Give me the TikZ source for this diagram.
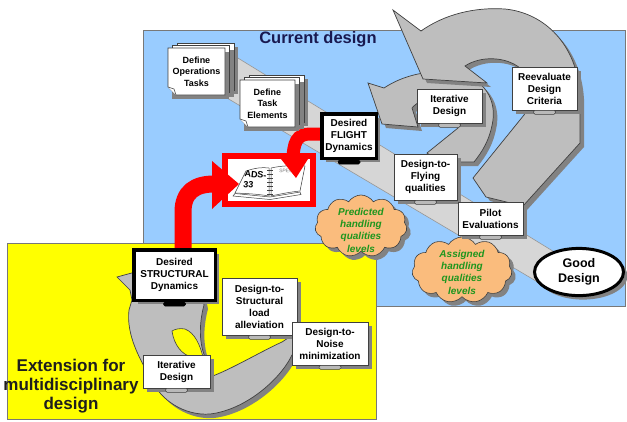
\documentclass[tikz,border=0pt]{standalone}
\usepackage{fontspec}
\setmainfont{Liberation Sans}
\usetikzlibrary{shapes.geometric,shapes.symbols,shadows}
\definecolor{skyb}{RGB}{153,204,255}
\definecolor{yel}{RGB}{255,255,0}
\definecolor{panelb}{RGB}{120,120,120}
\definecolor{bandlt}{RGB}{214,214,214}
\definecolor{bandedge}{RGB}{150,150,150}
\definecolor{bandmd}{RGB}{190,190,190}
\definecolor{edge}{RGB}{64,64,64}
\definecolor{shad}{RGB}{130,130,130}
\definecolor{cloudor}{RGB}{250,188,125}
\definecolor{greentx}{RGB}{30,150,30}
\definecolor{navy}{RGB}{25,25,80}
\definecolor{exttx}{RGB}{30,30,30}
\definecolor{redA}{RGB}{255,0,0}
\tikzset{
 shadowed/.style={drop shadow={shadow xshift=4pt,shadow yshift=-4pt,fill=shad,opacity=1}},
 boxst/.style={draw=edge,line width=0.6,fill=white,align=center,inner sep=1pt,
   font=\bfseries\fontsize{10}{12}\selectfont,text=black,shadowed},
 thickbox/.style={boxst,draw=black,line width=3.5},
 pagest/.style={draw=edge,line width=0.6,fill=white},
 stacktxt/.style={align=center,font=\bfseries\fontsize{9}{11.5}\selectfont,text=black},
 cloudst/.style={cloud,cloud puffs=11,cloud puff arc=115,aspect=1.45,draw=edge,
   line width=0.6,fill=cloudor,inner sep=0pt,shadowed},
 cloudtxt/.style={align=center,font=\bfseries\itshape\fontsize{10}{12.3}\selectfont,text=greentx},
 grayarrow/.style={fill=bandmd,draw=edge,line width=0.7,shadowed},
 bookst/.style={draw=edge,line width=0.5,fill=white},
 tabst/.style={fill=gray!55,draw=edge,line width=0.5},
 tabblk/.style={fill=black,draw=black,line width=0.5},
}
\newcommand\pagestack[4]{%
 \foreach \d/\e in {9/5,4.5/2.5}{%
  \fill[shad] (#1+\d+4,#2-\e+4) rectangle (#3+\d+4,#4-\e+4);
  \draw[pagest] (#1+\d,#2-\e) rectangle (#3+\d,#4-\e);
 }%
 \fill[shad] (#1+4,#2+4) rectangle (#3+4,#4+4);
 \draw[pagest] (#1,#2) -- (#3,#2) -- (#3,#4) -- (#1+8,#4) -- (#1,#4-8) -- cycle;
 \draw[pagest] (#1,#4-8) -- (#1+6,#4-6) -- (#1+8,#4);
}
\newcommand\standtab[2]{\draw[#2,rounded corners=1.5pt] ([xshift=-11pt]#1.south) rectangle ([xshift=11pt,yshift=-4pt]#1.south);}
\begin{document}
\begin{tikzpicture}[x=1pt,y=-1pt]
\useasboundingbox (0,0) rectangle (627,421);
\fill[white] (0,0) rectangle (627,421);
% panels
\draw[draw=panelb,line width=0.8,fill=skyb] (143,30) rectangle (625,306);
\draw[draw=panelb,line width=0.8,fill=yel] (7,243) rectangle (376,419);
% main light band
\draw[fill=bandlt,draw=bandedge,line width=0.6] (215,44) -- (556,253) -- (541,284) -- (205,85) -- cycle;
% small loop
\draw[grayarrow] (382,124) -- (368,83) -- (384,88) .. controls (402,76) and (426,70) .. (450,72)
  .. controls (480,75) and (496,95) .. (493,120) .. controls (490,140) and (482,152) .. (474,162)
  -- (440,162) -- (427,153) -- (458,128) .. controls (464,112) and (455,97) .. (440,97)
  .. controls (428,97) and (418,101) .. (412,108) -- (418,127) -- cycle;
% big loop
\draw[grayarrow] (393,10) -- (421,31) .. controls (445,14) and (475,7) .. (505,9)
  .. controls (545,13) and (577,45) .. (580,95) -- (580,143) -- (523,206) -- (486,197) -- (473,178)
  -- (524,115) .. controls (532,100) and (532,80) .. (520,68) .. controls (505,56) and (480,56) .. (465,66)
  -- (487,83) -- (423,79) -- cycle;
% lower loop
\draw[grayarrow] (117,277) -- (150,268) -- (200,285) -- (204,305) .. controls (200,320) and (198,340) .. (205,357)
  -- (210,377) .. controls (230,370) and (260,352) .. (282,342) -- (300,330) -- (302,352) -- (292,355)
  .. controls (280,380) and (245,410) .. (210,414) .. controls (185,416) and (160,400) .. (152,380)
  .. controls (140,360) and (126,335) .. (129,310) -- (132,300) -- (130,290) -- cycle;
\draw[fill=yel,draw=edge,line width=0.6] (172,331) .. controls (174,345) and (182,355) .. (192,357) -- (203,357)
  .. controls (200,345) and (195,333) .. (185,329) .. controls (180,328) and (175,329) .. (172,331) -- cycle;
% title
\node[font=\bfseries\fontsize{16.5}{19}\selectfont,text=navy] (title) at (318,39) {Current design};
% clouds
\node[cloudst,minimum width=92,minimum height=62] (pred) at (361,226) {};
\node[cloudtxt] (predt) at (361,230) {Predicted\\handling\\qualities\\levels};
\node[cloudst,minimum width=100,minimum height=66] (assg) at (462,270) {};
\node[cloudtxt] (assgt) at (462,272) {Assigned\\handling\\qualities\\levels};
% ADS box
\node[draw=redA,line width=6,fill=white,minimum width=88,minimum height=48,inner sep=0] (ads) at (269,180) {};
\draw[bookst] (233,196) -- (270,199.5) -- (301,194.5) -- (300,192) -- (270,197) -- (235,193.5) -- cycle;
\draw[bookst] (235,193) -- (246,171) .. controls (255,168) and (262,167) .. (269,168) -- (269,196)
  .. controls (258,194) and (246,193.5) .. (235,193) -- cycle;
\draw[bookst] (271,168) .. controls (280,166) and (292,165) .. (305,166) -- (300,191)
  .. controls (290,192) and (280,194) .. (271,196) -- cycle;
\foreach \yy in {170,174,...,194}{\draw[edge,line width=0.5] (267,\yy) -- (273,\yy);}
\node[font=\bfseries\fontsize{9}{11}\selectfont,align=left,rotate=-6,inner sep=0] (adst) at (255,180) {ADS-\\33};
\node[font=\fontsize{5}{5}\selectfont,text=gray,rotate=-5,inner sep=0] (spec) at (286,171) {SPEC};
% red arrows
\draw[redA,line width=17] (183,250) -- (183,212) .. controls (183,192) and (195,184) .. (214,184);
\fill[redA] (212,161) -- (239,184) -- (212,209) -- cycle;
\draw[redA,line width=13] (322,134) -- (310,134) .. controls (297,134) and (293,142) .. (293,162);
\fill[redA] (281,159) -- (308,159) -- (296,178) -- cycle;
% page stacks
\pagestack{168}{48}{225}{95}
\node[stacktxt] (defops) at (196.5,71.5) {Define\\Operations\\Tasks};
\pagestack{240}{80}{295}{127}
\node[stacktxt] (deftask) at (267.5,103.5) {Define\\Task\\Elements};
% boxes
\node[thickbox,minimum width=54.5,minimum height=44.5] (flight) at (349,136) {Desired\\FLIGHT\\Dynamics};
\node[boxst,minimum width=65,minimum height=34] (iter1) at (449.5,106) {Iterative\\Design};
\node[boxst,minimum width=65,minimum height=43] (reev) at (544.5,88.5) {Reevaluate\\Design\\Criteria};
\node[boxst,minimum width=63,minimum height=46] (fly) at (425.5,177) {Design-to-\\Flying\\qualities};
\node[boxst,minimum width=65,minimum height=33] (pilot) at (490.5,218.5) {Pilot\\Evaluations};
\node[thickbox,minimum width=81.5,minimum height=50.5] (struct) at (174.5,275) {Desired\\STRUCTURAL\\Dynamics};
\node[boxst,minimum width=75,minimum height=57] (sload) at (259.5,306.5) {Design-to-\\Structural\\load\\alleviation};
\node[boxst,minimum width=76,minimum height=43] (noise) at (330,343.5) {Design-to-\\Noise\\minimization};
\node[boxst,minimum width=67,minimum height=33] (iter2) at (176.5,371.5) {Iterative\\Design};
\standtab{flight}{tabblk}
\standtab{struct}{tabblk}
\standtab{iter1}{tabst}
\standtab{reev}{tabst}
\standtab{fly}{tabst}
\standtab{pilot}{tabst}
\standtab{sload}{tabst}
\standtab{noise}{tabst}
\standtab{iter2}{tabst}
% good design
\node[ellipse,draw=black,line width=3,fill=white,minimum width=89,minimum height=47,align=center,
  font=\bfseries\fontsize{12.5}{15}\selectfont,shadowed] (good) at (579,272) {Good\\Design};
% extension label
\node[font=\bfseries\fontsize{17}{19}\selectfont,align=center,text=exttx] (ext) at (71,386) {Extension for\\multidisciplinary\\design};
\end{tikzpicture}
\end{document}
